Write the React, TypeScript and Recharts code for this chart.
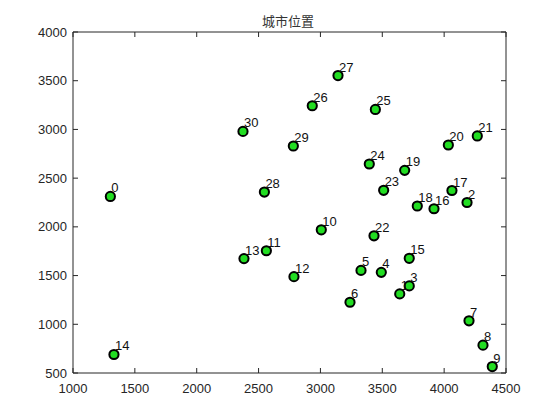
import React from "react";
import { ScatterChart, Scatter, XAxis, YAxis, LabelList } from "recharts";

const cityIds = [0,1,2,3,4,5,6,7,8,9,10,11,12,13,14,15,16,17,18,19,20,21,22,23,24,25,26,27,28,29,30];
const cityX = [1302,3641,4185,3718,3492,3328,3239,4201,4314,4389,3007,2563,2786,2382,1331,3718,3918,4063,3783,3681,4034,4268,3433,3511,3395,3444,2934,3142,2547,2781,2374];
const cityY = [2312,1312,2250,1394,1533,1553,1226,1036,786,566,1970,1755,1489,1674,690,1677,2186,2373,2214,2580,2840,2933,1908,2375,2645,3205,3243,3553,2357,2830,2980];
const xTicks = [1000,1500,2000,2500,3000,3500,4000,4500];
const yTicks = [500,1000,1500,2000,2500,3000,3500,4000];
const title = "城市位置";

const data = cityIds.map((id, i) => ({ id: String(id), x: cityX[i], y: cityY[i] }));

const AX = "#262626";
const FONT = "Arial, 'Liberation Sans', sans-serif";

const BottomTick = (p: any) => (
  <g>
    <line x1={p.x} x2={p.x} y1={p.y} y2={p.y - 5} stroke={AX} strokeWidth={1} />
    <text x={p.x} y={p.y + 20} textAnchor="middle" fontSize={13} fill={AX} fontFamily={FONT}>{p.payload.value}</text>
  </g>
);
const TopTick = (p: any) => (
  <line x1={p.x} x2={p.x} y1={p.y} y2={p.y + 5} stroke={AX} strokeWidth={1} />
);
const LeftTick = (p: any) => (
  <g>
    <line x1={p.x} x2={p.x + 5} y1={p.y} y2={p.y} stroke={AX} strokeWidth={1} />
    <text x={p.x - 6} y={p.y + 4.5} textAnchor="end" fontSize={13} fill={AX} fontFamily={FONT}>{p.payload.value}</text>
  </g>
);
const RightTick = (p: any) => (
  <line x1={p.x} x2={p.x - 5} y1={p.y} y2={p.y} stroke={AX} strokeWidth={1} />
);

const Marker = (p: any) => (
  <circle cx={p.cx} cy={p.cy} r={4.6} fill="#22dd22" stroke="#000" strokeWidth={2} />
);
const Empty = () => <g />;

const PointLabel = (p: any) => (
  <text x={p.x + p.width / 2 + 1} y={p.y + p.height / 2 - 4} fontSize={13} fill="#111" fontFamily={FONT}>{p.value}</text>
);

export default function App() {
  return (
    <div style={{ position: "relative", width: 552, height: 412 }}>
      <div style={{ position: "absolute", left: 0, width: 560, top: 3, textAlign: "center", fontSize: 13, color: "#333", fontFamily: "'Noto Sans CJK SC', sans-serif" }}>{title}</div>
      <ScatterChart width={552} height={412} margin={{ top: 23, right: 53, bottom: 0, left: 0 }}>
        <XAxis xAxisId="b" type="number" dataKey="x" domain={[1000, 4500]} ticks={xTicks} orientation="bottom" height={47}
          stroke={AX} tickLine={false} tickSize={0} tickMargin={0} tick={<BottomTick />} interval={0} allowDataOverflow />
        <XAxis xAxisId="t" type="number" dataKey="x" domain={[1000, 4500]} ticks={xTicks} orientation="top" height={1}
          stroke={AX} tickLine={false} tickSize={0} tickMargin={0} tick={<TopTick />} interval={0} allowDataOverflow />
        <YAxis yAxisId="l" type="number" dataKey="y" domain={[500, 4000]} ticks={yTicks} orientation="left" width={65}
          stroke={AX} tickLine={false} tickSize={0} tickMargin={0} tick={<LeftTick />} interval={0} allowDataOverflow />
        <YAxis yAxisId="r" type="number" dataKey="y" domain={[500, 4000]} ticks={yTicks} orientation="right" width={1}
          stroke={AX} tickLine={false} tickSize={0} tickMargin={0} tick={<RightTick />} interval={0} allowDataOverflow />
        <Scatter data={data} xAxisId="b" yAxisId="l" shape={<Empty />} isAnimationActive={false}>
          <LabelList dataKey="id" content={<PointLabel />} />
        </Scatter>
        <Scatter data={data} xAxisId="b" yAxisId="l" shape={<Marker />} isAnimationActive={false} />
        <Scatter data={[]} xAxisId="t" yAxisId="r" isAnimationActive={false} />
      </ScatterChart>
    </div>
  );
}
